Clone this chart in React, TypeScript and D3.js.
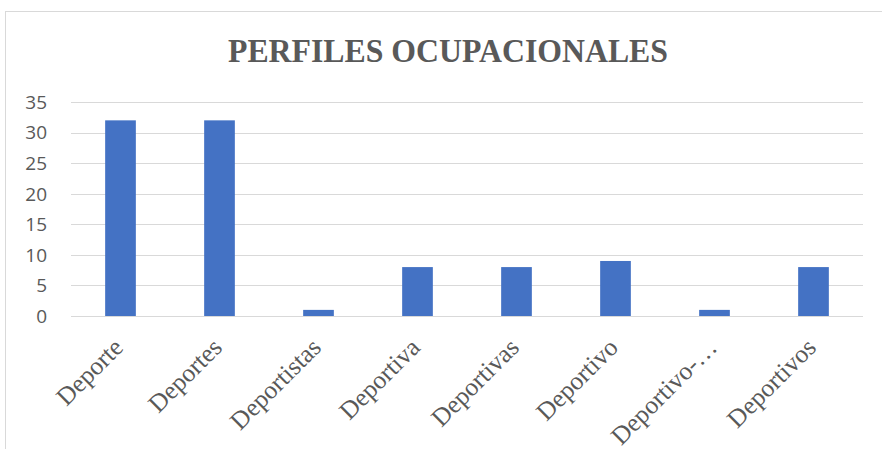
import { useRef, useEffect } from 'react';
import * as d3 from 'd3';

const categories = ['Deporte', 'Deportes', 'Deportistas', 'Deportiva', 'Deportivas', 'Deportivo', 'Deportivo-…', 'Deportivos'];
const values = [32, 32, 1, 8, 8, 9, 1, 8];
const yTicks = [0, 5, 10, 15, 20, 25, 30, 35];
const title = 'PERFILES OCUPACIONALES';

function App() {
  const ref = useRef<SVGSVGElement>(null);

  useEffect(() => {
    const node = ref.current;
    if (!node) return;
    const svg = d3.select(node);
    svg.selectAll('*').remove();

    const W = 882;
    const H = 449;
    const plot = { left: 71, right: 863, top: 102, bottom: 316 };

    // chart frame
    svg.append('rect')
      .attr('x', 5.5).attr('y', 11.5)
      .attr('width', W).attr('height', H)
      .attr('fill', '#fff').attr('stroke', '#d9d9d9');

    svg.append('text')
      .attr('x', 448).attr('y', 62)
      .attr('text-anchor', 'middle')
      .attr('font-family', '"Liberation Serif", "Times New Roman", serif')
      .attr('font-weight', 'bold')
      .attr('font-size', 33)
      .attr('textLength', 440)
      .attr('lengthAdjust', 'spacingAndGlyphs')
      .attr('fill', '#595959')
      .text(title);

    const x = d3.scaleBand<string>()
      .domain(categories)
      .range([plot.left, plot.right])
      .paddingInner(0.69)
      .paddingOuter(0.345);

    const y = d3.scaleLinear()
      .domain([0, 35])
      .range([plot.bottom, plot.top]);

    // gridlines
    svg.append('g')
      .selectAll('line')
      .data(yTicks)
      .join('line')
      .attr('x1', plot.left).attr('x2', plot.right)
      .attr('y1', d => Math.round(y(d)) + 0.5)
      .attr('y2', d => Math.round(y(d)) + 0.5)
      .attr('stroke', '#d9d9d9')
      .attr('stroke-width', 1);

    // y tick labels
    svg.append('g')
      .selectAll('text')
      .data(yTicks)
      .join('text')
      .attr('x', 47)
      .attr('y', d => y(d))
      .attr('dy', '0.36em')
      .attr('text-anchor', 'end')
      .attr('font-family', '"Open Sans", "Noto Sans", sans-serif')
      .attr('font-size', 19)
      .attr('fill', '#595959')
      .text(d => d);

    // bars
    svg.append('g')
      .selectAll('rect')
      .data(values)
      .join('rect')
      .attr('x', (_, i) => x(categories[i])!)
      .attr('width', x.bandwidth())
      .attr('y', d => y(d))
      .attr('height', d => y(0) - y(d))
      .attr('fill', '#4472c4');

    // x labels
    svg.append('g')
      .selectAll('text')
      .data(categories)
      .join('text')
      .attr('transform', d => `translate(${x(d)! + x.bandwidth() / 2 + 4},${plot.bottom + 33}) rotate(-45)`)
      .attr('text-anchor', 'end')
      .attr('font-family', '"Liberation Serif", "Times New Roman", serif')
      .attr('font-size', 25.5)
      .attr('fill', '#595959')
      .text(d => d);
  }, []);

  return (
    <svg ref={ref} width={882} height={449} style={{ position: 'absolute', left: 0, top: 0 }} />
  );
}

export default App;
